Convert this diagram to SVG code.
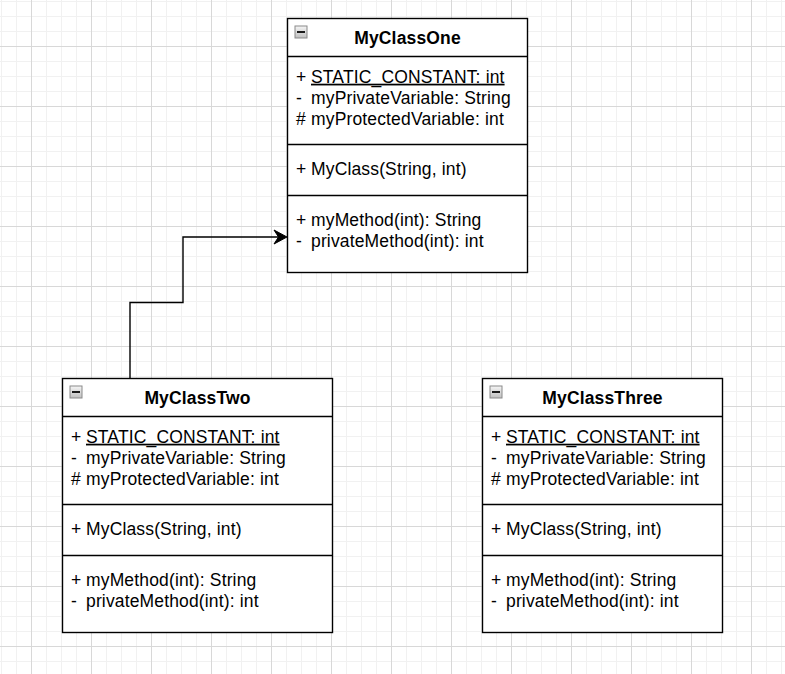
<svg xmlns="http://www.w3.org/2000/svg" xmlns:xlink="http://www.w3.org/1999/xlink" width="785" height="674" viewBox="0 0 785 674">
<style>
.box{fill:#ffffff;stroke:#000000;stroke-width:1.4}
.sep{stroke:#000000;stroke-width:1.4;fill:none}
.t{font-family:"Liberation Sans",Arial,sans-serif;font-size:17.5px;letter-spacing:0.15px;fill:#000000}
.title{font-weight:bold;text-anchor:middle}
.conn{fill:none;stroke:#000000;stroke-width:1.4}
</style>
<defs>
<pattern id="grid" patternUnits="userSpaceOnUse" x="31" y="46" width="60" height="60">
<rect x="0" y="0" width="60" height="60" fill="#ffffff"/>
<rect x="15" y="0" width="1" height="60" fill="#f1f1f1"/>
<rect x="30" y="0" width="1" height="60" fill="#f1f1f1"/>
<rect x="45" y="0" width="1" height="60" fill="#f1f1f1"/>
<rect x="0" y="15" width="60" height="1" fill="#f1f1f1"/>
<rect x="0" y="30" width="60" height="1" fill="#f1f1f1"/>
<rect x="0" y="45" width="60" height="1" fill="#f1f1f1"/>
<rect x="0" y="0" width="1" height="60" fill="#d8d8d8"/>
<rect x="0" y="0" width="60" height="1" fill="#d8d8d8"/>
</pattern>
<linearGradient id="ig" x1="0" y1="0" x2="0" y2="1">
<stop offset="0" stop-color="#f6f6f6"/>
<stop offset="1" stop-color="#c0c0c0"/>
</linearGradient>
<g id="icon">
<rect x="0.5" y="0.5" width="12" height="12" fill="url(#ig)" stroke="#8a8a8a" stroke-width="1"/>
<rect x="2.5" y="5.5" width="8" height="2" fill="#1a1a1a"/>
</g>
</defs>
<rect x="0" y="0" width="785" height="674" fill="url(#grid)"/>

<g id="connectors">
<path class="conn" d="M130,378.5 V302.5 H183 V237 H279"/>
<polygon points="287,237 274,230 278.5,237 274,244" fill="#000000" stroke="#000000" stroke-width="1"/>
</g>

<g id="MyClassOne" transform="translate(287.5,18.5)">
<rect class="box" x="0" y="0" width="240" height="254"/>
<line class="sep" x1="0" y1="38" x2="240" y2="38"/>
<line class="sep" x1="0" y1="126" x2="240" y2="126"/>
<line class="sep" x1="0" y1="177" x2="240" y2="177"/>
<use xlink:href="#icon" x="7" y="7"/>
<text class="t title" x="120" y="25.5">MyClassOne</text>
<text class="t" y="64.2"><tspan x="8.5">+ </tspan><tspan x="23.5" text-decoration="underline">STATIC_CONSTANT: int</tspan></text>
<text class="t" y="85.8"><tspan x="8.5">-  </tspan><tspan x="23.5">myPrivateVariable: String</tspan></text>
<text class="t" y="106.5"><tspan x="8.5"># </tspan><tspan x="23.5">myProtectedVariable: int</tspan></text>
<text class="t" y="156.5"><tspan x="8.5">+ </tspan><tspan x="23.5">MyClass(String, int)</tspan></text>
<text class="t" y="207.5"><tspan x="8.5">+ </tspan><tspan x="23.5">myMethod(int): String</tspan></text>
<text class="t" y="228.8"><tspan x="8.5">-  </tspan><tspan x="23.5">privateMethod(int): int</tspan></text>
</g>

<g id="MyClassTwo" transform="translate(62.5,378.5)">
<rect class="box" x="0" y="0" width="270" height="254"/>
<line class="sep" x1="0" y1="38" x2="270" y2="38"/>
<line class="sep" x1="0" y1="126" x2="270" y2="126"/>
<line class="sep" x1="0" y1="177" x2="270" y2="177"/>
<use xlink:href="#icon" x="7" y="7"/>
<text class="t title" x="135" y="25.5">MyClassTwo</text>
<text class="t" y="64.2"><tspan x="8.5">+ </tspan><tspan x="23.5" text-decoration="underline">STATIC_CONSTANT: int</tspan></text>
<text class="t" y="85.8"><tspan x="8.5">-  </tspan><tspan x="23.5">myPrivateVariable: String</tspan></text>
<text class="t" y="106.5"><tspan x="8.5"># </tspan><tspan x="23.5">myProtectedVariable: int</tspan></text>
<text class="t" y="156.5"><tspan x="8.5">+ </tspan><tspan x="23.5">MyClass(String, int)</tspan></text>
<text class="t" y="207.5"><tspan x="8.5">+ </tspan><tspan x="23.5">myMethod(int): String</tspan></text>
<text class="t" y="228.8"><tspan x="8.5">-  </tspan><tspan x="23.5">privateMethod(int): int</tspan></text>
</g>

<g id="MyClassThree" transform="translate(482.5,378.5)">
<rect class="box" x="0" y="0" width="240" height="254"/>
<line class="sep" x1="0" y1="38" x2="240" y2="38"/>
<line class="sep" x1="0" y1="126" x2="240" y2="126"/>
<line class="sep" x1="0" y1="177" x2="240" y2="177"/>
<use xlink:href="#icon" x="7" y="7"/>
<text class="t title" x="120" y="25.5">MyClassThree</text>
<text class="t" y="64.2"><tspan x="8.5">+ </tspan><tspan x="23.5" text-decoration="underline">STATIC_CONSTANT: int</tspan></text>
<text class="t" y="85.8"><tspan x="8.5">-  </tspan><tspan x="23.5">myPrivateVariable: String</tspan></text>
<text class="t" y="106.5"><tspan x="8.5"># </tspan><tspan x="23.5">myProtectedVariable: int</tspan></text>
<text class="t" y="156.5"><tspan x="8.5">+ </tspan><tspan x="23.5">MyClass(String, int)</tspan></text>
<text class="t" y="207.5"><tspan x="8.5">+ </tspan><tspan x="23.5">myMethod(int): String</tspan></text>
<text class="t" y="228.8"><tspan x="8.5">-  </tspan><tspan x="23.5">privateMethod(int): int</tspan></text>
</g>
</svg>
